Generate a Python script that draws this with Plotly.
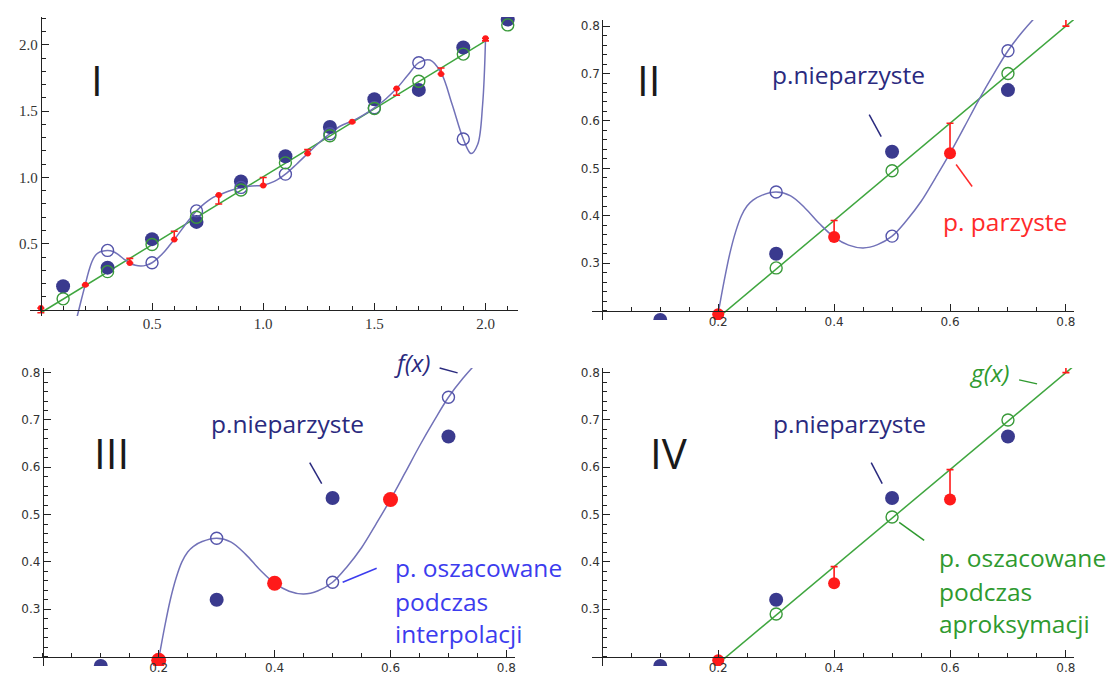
import plotly.graph_objects as go

W, H = 1107, 675

# ---------------- data ----------------
odd_x = [0.1, 0.3, 0.5, 0.7, 0.9, 1.1, 1.3, 1.5, 1.7, 1.9, 2.1]
odd_y = [0.18, 0.32, 0.535, 0.665, 0.97, 1.16, 1.38, 1.59, 1.66, 1.98, 2.19]          # p. nieparzyste
even_x = [0.0, 0.2, 0.4, 0.6, 0.8, 1.0, 1.2, 1.4, 1.6, 1.8, 2.0]
even_y = [0.015, 0.192, 0.355, 0.532, 0.868, 0.94, 1.18, 1.42, 1.67, 1.78, 2.05]      # p. parzyste
fit_at_even = [-0.02, 0.185, 0.39, 0.595, 0.80, 1.0, 1.21, 1.415, 1.62, 1.825, 2.03]
fit_at_odd = [0.085, 0.29, 0.495, 0.70, 0.905, 1.11, 1.315, 1.52, 1.725, 1.93, 2.15]  # g(x) at odd points
fit_line_x = [0.0, 2.0]
fit_line_y = [-0.02, 2.03]
interp_x = [0.3, 0.5, 0.7, 0.9, 1.1, 1.3, 1.5, 1.7, 1.9]
interp_y = [0.45, 0.357, 0.748, 0.925, 1.025, 1.33, 1.525, 1.865, 1.29]               # f(x) at odd points
curve_x = [0.16, 0.18, 0.2, 0.21, 0.22, 0.23, 0.24, 0.25, 0.26, 0.275, 0.3, 0.325, 0.35, 0.375,
           0.4, 0.425, 0.45, 0.475, 0.5, 0.525, 0.55, 0.575, 0.6, 0.625, 0.65, 0.675, 0.7, 0.725,
           0.75, 0.775, 0.8, 0.85, 0.9, 0.95, 1.0, 1.05, 1.1, 1.15, 1.2, 1.25, 1.3, 1.35, 1.4,
           1.45, 1.5, 1.55, 1.6, 1.65, 1.7, 1.75, 1.8, 1.85, 1.9, 1.935, 1.965, 1.987, 2.0]
curve_y = [-0.07, 0.065, 0.195, 0.261, 0.32, 0.366, 0.400, 0.421, 0.433, 0.443, 0.45, 0.442, 0.416, 0.383,
           0.355, 0.338, 0.332, 0.339, 0.357, 0.39, 0.43, 0.48, 0.532, 0.588, 0.645, 0.698, 0.748, 0.788,
           0.822, 0.85, 0.868, 0.9, 0.925, 0.935, 0.942, 0.97, 1.025, 1.10, 1.18, 1.26, 1.33, 1.39, 1.425,
           1.47, 1.525, 1.59, 1.67, 1.77, 1.865, 1.885, 1.79, 1.55, 1.29, 1.18, 1.25, 1.55, 2.04]

# ---------------- styles ----------------
C_BLUE = "#3a3a8e"
C_BLUE_OPEN = "#5454aa"
C_CURVE = "#7272b8"
C_GREEN = "#3fa63f"
C_GREEN_OPEN = "#3a9a3a"
C_RED = "#ff1a1a"
C_AX = "#222222"

bar_plus = [max(g - r, 0) for g, r in zip(fit_at_even, even_y)]
bar_minus = [max(r - g, 0) for g, r in zip(fit_at_even, even_y)]

panels = [
    dict(name="I", xdom=(30, 518), ydom=(15, 315), xr=(-0.049, 2.144), yr=(-0.045, 2.21),
         base=(0.0, 0.0), xt=[0.5, 1.0, 1.5, 2.0], yt=[0.5, 1.0, 1.5, 2.0], xm=0.1, ym=0.1,
         font=dict(family="Liberation Serif", size=15, color="#333"),
         f=True, g=True, bars=True, red_size=6, numpos=(97, 78)),
    dict(name="II", xdom=(593, 1075), ydom=(18, 319), xr=(-0.017, 0.814), yr=(0.18, 0.813),
         base=(0.0, 0.2), xt=[0.2, 0.4, 0.6, 0.8], yt=[0.3, 0.4, 0.5, 0.6, 0.7, 0.8], xm=0.05, ym=0.02,
         font=dict(family="DejaVu Sans", size=12, color="#333"),
         f=True, g=True, bars=True, red_size=12, numpos=(649, 78)),
    dict(name="III", xdom=(33, 515), ydom=(367, 666), xr=(-0.017, 0.814), yr=(0.18, 0.81),
         base=(0.0, 0.2), xt=[0.2, 0.4, 0.6, 0.8], yt=[0.3, 0.4, 0.5, 0.6, 0.7, 0.8], xm=0.05, ym=0.02,
         font=dict(family="DejaVu Sans", size=12, color="#333"),
         f=True, g=False, bars=False, red_size=15, numpos=(112, 452)),
    dict(name="IV", xdom=(593, 1075), ydom=(367, 666), xr=(-0.017, 0.814), yr=(0.18, 0.81),
         base=(0.0, 0.2), xt=[0.2, 0.4, 0.6, 0.8], yt=[0.3, 0.4, 0.5, 0.6, 0.7, 0.8], xm=0.05, ym=0.02,
         font=dict(family="DejaVu Sans", size=12, color="#333"),
         f=False, g=True, bars=True, red_size=12, numpos=(670, 452)),
]

fig = go.Figure()
layout = dict(width=W, height=H, margin=dict(l=0, r=0, t=0, b=0),
              paper_bgcolor="white", plot_bgcolor="rgba(0,0,0,0)", showlegend=False)
annotations = []
shapes = []


def paper(px, py):
    return px / W, 1 - py / H


for i, p in enumerate(panels):
    k = "" if i == 0 else str(i + 1)
    xa, ya = "x" + k, "y" + k
    x0p, x1p = p["xdom"]
    ytop, ybot = p["ydom"]
    # pixel position of the axis crossing
    bx_px = x0p + (p["base"][0] - p["xr"][0]) / (p["xr"][1] - p["xr"][0]) * (x1p - x0p)
    by_px = ybot - (p["base"][1] - p["yr"][0]) / (p["yr"][1] - p["yr"][0]) * (ybot - ytop)
    common = dict(showgrid=False, zeroline=False, showline=True, linecolor=C_AX, linewidth=1,
                  ticks="inside", ticklen=7, tickwidth=1, tickcolor=C_AX, tickfont=p["font"],
                  fixedrange=True, tickformat=".1f", anchor="free")
    layout["xaxis" + k] = dict(common, domain=[x0p / W, x1p / W], range=list(p["xr"]),
                               position=1 - by_px / H, tickmode="array", tickvals=p["xt"],
                               minor=dict(ticks="inside", ticklen=4, tickcolor=C_AX, tickmode="linear",
                                          tick0=0, dtick=p["xm"], showgrid=False))
    layout["yaxis" + k] = dict(common, domain=[1 - ybot / H, 1 - ytop / H], range=list(p["yr"]),
                               position=bx_px / W, tickmode="array", tickvals=p["yt"],
                               minor=dict(ticks="inside", ticklen=4, tickcolor=C_AX, tickmode="linear",
                                          tick0=0, dtick=p["ym"], showgrid=False))

    if p["g"]:
        fig.add_trace(go.Scatter(x=fit_line_x, y=fit_line_y, mode="lines",
                                 line=dict(color=C_GREEN, width=1.5), xaxis=xa, yaxis=ya))
    if p["f"]:
        fig.add_trace(go.Scatter(x=curve_x, y=curve_y, mode="lines",
                                 line=dict(color=C_CURVE, width=1.5, shape="spline", smoothing=1.0),
                                 xaxis=xa, yaxis=ya))
    fig.add_trace(go.Scatter(x=odd_x, y=odd_y, mode="markers",
                             marker=dict(color=C_BLUE, size=14, line=dict(width=0)),
                             xaxis=xa, yaxis=ya))
    red = dict(x=even_x, y=even_y, mode="markers",
               marker=dict(color=C_RED, size=p["red_size"], line=dict(width=0)), xaxis=xa, yaxis=ya)
    if p["bars"]:
        red["error_y"] = dict(type="data", symmetric=False, array=bar_plus, arrayminus=bar_minus,
                              color=C_RED, thickness=1.6, width=3.5)
    fig.add_trace(go.Scatter(**red))
    if p["f"]:
        fig.add_trace(go.Scatter(x=interp_x, y=interp_y, mode="markers",
                                 marker=dict(symbol="circle-open", color=C_BLUE_OPEN, size=12,
                                             line=dict(width=1.4)), xaxis=xa, yaxis=ya))
    if p["g"]:
        fig.add_trace(go.Scatter(x=odd_x, y=fit_at_odd, mode="markers",
                                 marker=dict(symbol="circle-open", color=C_GREEN_OPEN, size=12,
                                             line=dict(width=1.4)), xaxis=xa, yaxis=ya))

    nx, ny = paper(*p["numpos"])
    annotations.append(dict(x=nx, y=ny, xref="paper", yref="paper", text=p["name"], showarrow=False,
                            font=dict(family="Open Sans", size=42, color="#1a1a1a"),
                            xanchor="center", yanchor="middle"))


def label(px, py, text, color, size=24.5, anchor="center", italic=False):
    x, y = paper(px, py)
    t = f"<i>{text}</i>" if italic else text
    annotations.append(dict(x=x, y=y, xref="paper", yref="paper", text=t, showarrow=False,
                            font=dict(family="Open Sans", size=size, color=color),
                            xanchor=anchor, yanchor="middle"))


def leader(p1, p2, color):
    x0, y0 = paper(*p1)
    x1, y1 = paper(*p2)
    shapes.append(dict(type="line", xref="paper", yref="paper", x0=x0, y0=y0, x1=x1, y1=y1,
                       line=dict(color=color, width=1.5)))


C_TXT_BLUE = "#2a2a7e"
C_TXT_LBLUE = "#3c3cee"
C_TXT_GREEN = "#2f9a2f"
C_TXT_RED = "#ff2a2a"

# panel II
label(849, 73, "p.nieparzyste", C_TXT_BLUE)
leader((870, 113), (882, 135), C_TXT_BLUE)
label(1006, 220, "p. parzyste", C_TXT_RED)
leader((957, 163), (973, 185), C_TXT_RED)
# panel III
label(288, 423, "p.nieparzyste", C_TXT_BLUE)
leader((310, 462), (322, 483), C_TXT_BLUE)
label(412, 362, "f(x)", C_TXT_BLUE, italic=True)
leader((440, 367), (458, 372), C_TXT_BLUE)
label(393, 567, "p. oszacowane", C_TXT_LBLUE, anchor="left")
label(393, 601, "podczas", C_TXT_LBLUE, anchor="left")
label(393, 633, "interpolacji", C_TXT_LBLUE, anchor="left")
leader((343, 582), (377, 568), C_TXT_LBLUE)
# panel IV
label(850, 423, "p.nieparzyste", C_TXT_BLUE)
leader((872, 462), (883, 483), C_TXT_BLUE)
label(990, 372, "g(x)", C_TXT_GREEN, italic=True)
leader((1020, 379), (1038, 383), C_TXT_GREEN)
label(938, 557, "p. oszacowane", C_TXT_GREEN, anchor="left")
label(938, 591, "podczas", C_TXT_GREEN, anchor="left")
label(938, 623, "aproksymacji", C_TXT_GREEN, anchor="left")
leader((900, 522), (925, 540), C_TXT_GREEN)

layout["annotations"] = annotations
layout["shapes"] = shapes
fig.update_layout(**layout)
fig.write_html("out.html")
